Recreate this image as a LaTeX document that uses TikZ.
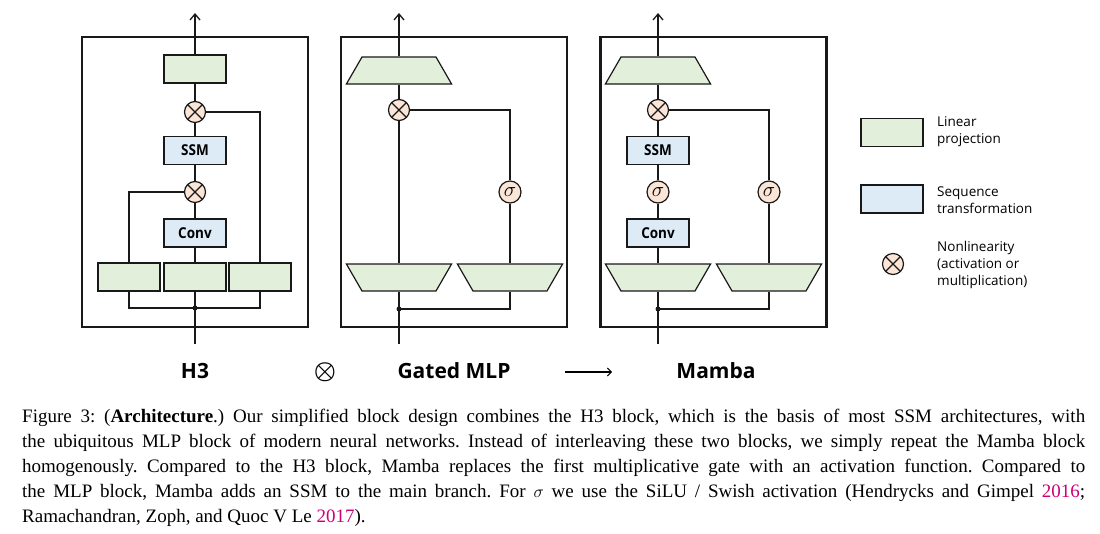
\documentclass[tikz,border=0pt]{standalone}
\usepackage{amsmath}
\usepackage{fontspec}
\setmainfont{Liberation Serif}
\newfontfamily\diafont{Open Sans}
\newfontfamily\condfont[FakeStretch=0.9]{Open Sans}
\usetikzlibrary{arrows.meta, shapes.geometric}

\definecolor{linfill}{RGB}{226,239,218}
\definecolor{seqfill}{RGB}{221,235,247}
\definecolor{nonfill}{RGB}{250,229,214}
\definecolor{citemag}{RGB}{204,0,119}
\definecolor{wirecol}{RGB}{25,25,25}

\tikzset{
  linbox/.style={draw=wirecol, fill=linfill, line width=1.2pt, minimum width=62pt, minimum height=28pt, inner sep=0pt},
  seqbox/.style={linbox, fill=seqfill, font=\condfont\bfseries\fontsize{15}{15}\selectfont},
  uptrap/.style={trapezium, draw=wirecol, fill=linfill, line width=1.2pt, trapezium angle=60,
    inner xsep=37pt, inner ysep=13.5pt},
  downtrap/.style={uptrap, shape border rotate=180},
  mulnode/.style={circle, draw=wirecol, fill=nonfill, line width=1.2pt, minimum size=21pt, inner sep=0pt,
    path picture={\draw[line width=1.2pt, wirecol] (path picture bounding box.north west) -- (path picture bounding box.south east)
      (path picture bounding box.north east) -- (path picture bounding box.south west);}},
  actnode/.style={circle, draw=wirecol, fill=nonfill, line width=1.2pt, minimum size=22pt, inner sep=0pt, font=\fontsize{22}{22}\selectfont},
  blockframe/.style={draw=wirecol, line width=2.5pt, minimum width=226pt, minimum height=290pt, inner sep=0pt},
  wire/.style={draw=wirecol, line width=1.4pt},
  outarrow/.style={wire, -{Straight Barb[length=6pt,width=10pt,line width=1.3pt]}},
  jdot/.style={circle, fill=wirecol, inner sep=0pt, minimum size=5pt},
  blocklabel/.style={font=\diafont\bfseries\fontsize{21}{21}\selectfont, inner sep=0pt},
  legendtext/.style={font=\diafont\fontsize{13.5}{17}\selectfont, align=left, anchor=west, inner sep=0pt},
}

\begin{document}
\frenchspacing
\begin{tikzpicture}[x=1pt,y=-1pt]
  \useasboundingbox (0,0) rectangle (1100,533);

  %Block: H3
  \node[blockframe] (h3frame) at (195,182) {};
  \node[linbox] (h3top) at (195,69) {};
  \node[mulnode] (h3mul) at (195,112) {};
  \node[seqbox] (h3ssm) at (195,150.5) {SSM};
  \node[mulnode] (h3mulb) at (195,192) {};
  \node[seqbox] (h3conv) at (195,233) {Conv};
  \node[linbox] (h3la) at (129,277) {};
  \node[linbox] (h3lb) at (195,277) {};
  \node[linbox] (h3lc) at (260,277) {};
  \coordinate (h3in) at (195,344);
  \coordinate (h3out) at (195,13);
  \coordinate (h3jn) at (195,308);
  \draw[wire] (h3in) -- (h3lb);
  \draw[wire] (h3lb) -- (h3conv);
  \draw[wire] (h3conv) -- (h3mulb);
  \draw[wire] (h3mulb) -- (h3ssm);
  \draw[wire] (h3ssm) -- (h3mul);
  \draw[wire] (h3mul) -- (h3top);
  \draw[outarrow] (h3top) -- (h3out);
  \draw[wire] (h3mul) -| (h3lc);
  \draw[wire] (h3mulb) -| (h3la);
  \draw[wire] (h3la) |- (h3jn) -| (h3lc);
  \node[jdot] (h3dot) at (h3jn) {};

  %Block: Gated MLP
  \node[blockframe] (gmframe) at (454,182) {};
  \node[uptrap] (gmtop) at (399,70.5) {};
  \node[mulnode] (gmmul) at (399,110) {};
  \node[actnode] (gmact) at (510,192) {$\sigma$};
  \node[downtrap] (gmla) at (399,277.5) {};
  \node[downtrap] (gmlb) at (510,277.5) {};
  \coordinate (gmin) at (399,344);
  \coordinate (gmout) at (399,13);
  \coordinate (gmjn) at (399,309);
  \draw[wire] (gmin) -- (gmla);
  \draw[wire] (gmla) -- (gmmul);
  \draw[wire] (gmmul) -- (gmtop);
  \draw[outarrow] (gmtop) -- (gmout);
  \draw[wire] (gmmul) -| (gmact);
  \draw[wire] (gmact) -- (gmlb);
  \draw[wire] (gmjn) -| (gmlb);
  \node[jdot] (gmdot) at (gmjn) {};

  %Block: Mamba
  \node[blockframe] (mbframe) at (713.5,182) {};
  \node[uptrap] (mbtop) at (658,70.5) {};
  \node[mulnode] (mbmul) at (658,110) {};
  \node[seqbox] (mbssm) at (658,150.5) {SSM};
  \node[actnode] (mbact) at (658,192) {$\sigma$};
  \node[seqbox] (mbconv) at (658,233) {Conv};
  \node[actnode] (mbactb) at (769,192) {$\sigma$};
  \node[downtrap] (mbla) at (658,277.5) {};
  \node[downtrap] (mblb) at (769,277.5) {};
  \coordinate (mbin) at (658,344);
  \coordinate (mbout) at (658,13);
  \coordinate (mbjn) at (658,309);
  \draw[wire] (mbin) -- (mbla);
  \draw[wire] (mbla) -- (mbconv);
  \draw[wire] (mbconv) -- (mbact);
  \draw[wire] (mbact) -- (mbssm);
  \draw[wire] (mbssm) -- (mbmul);
  \draw[wire] (mbmul) -- (mbtop);
  \draw[outarrow] (mbtop) -- (mbout);
  \draw[wire] (mbmul) -| (mbactb);
  \draw[wire] (mbactb) -- (mblb);
  \draw[wire] (mbjn) -| (mblb);
  \node[jdot] (mbdot) at (mbjn) {};

  %Legend
  \node[linbox] (leglin) at (892,132.5) {};
  \node[legendtext] (leglintext) at (937,132) {Linear\\projection};
  \node[linbox, fill=seqfill] (legseq) at (892,199) {};
  \node[legendtext] (legseqtext) at (937,200) {Sequence\\transformation};
  \node[mulnode] (legmul) at (893,264) {};
  \node[legendtext] (legmultext) at (937,265) {Nonlinearity\\(activation or\\multiplication)};

  % Text Node
  \node[blocklabel] (h3label) at (195,371) {H3};
  \node[inner sep=0pt, font=\fontsize{27}{27}\selectfont] (opsym) at (325,372) {$\boldsymbol{\otimes}$};
  \node[blocklabel] (gmlabel) at (454,371) {Gated MLP};
  \coordinate (arrowa) at (565,372);
  \coordinate (arrowb) at (612,372);
  \draw[line width=1.1pt, -{Straight Barb[length=4pt,width=8pt,line width=1pt]}] (arrowa) -- (arrowb);
  \node[blocklabel] (mblabel) at (716,371) {Mamba};

  % Caption
  \node[anchor=north west, inner sep=0pt, text width=1063pt, align=justify,
        font=\fontsize{19}{25}\selectfont] (caption) at (22,409)
  {Figure 3: (\textbf{Architecture}.) Our simplified block design combines the H3 block, which is the basis of most SSM architectures, with\linebreak
   the ubiquitous MLP block of modern neural networks. Instead of interleaving these two blocks, we simply repeat the Mamba block\linebreak
   homogenously. Compared to the H3 block, Mamba replaces the first multiplicative gate with an activation function. Compared to\linebreak
   the MLP block, Mamba adds an SSM to the main branch. For $\sigma$ we use the SiLU / Swish activation (Hendrycks and Gimpel \textcolor{citemag}{2016};\linebreak
   Ramachandran, Zoph, and Quoc V Le \textcolor{citemag}{2017}).};
\end{tikzpicture}
\end{document}
